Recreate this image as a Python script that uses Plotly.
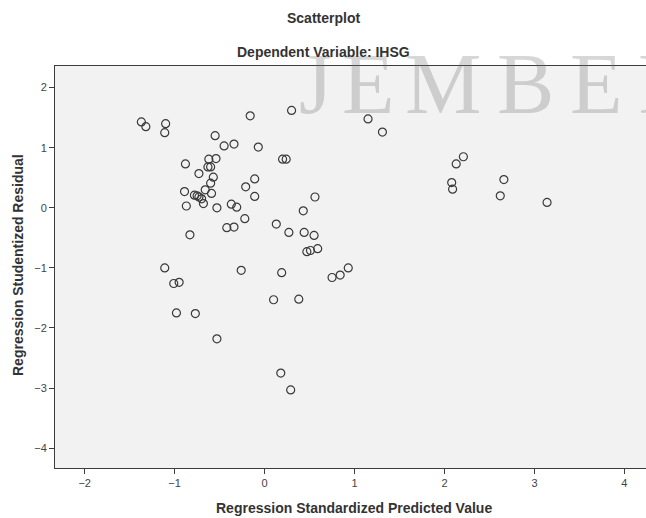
import plotly.graph_objects as go

# Regression Standardized Predicted Value (x) and Regression Studentized Residual (y)
pred = [-1.37, -1.32, -1.10, -1.11, -0.16, 0.30, -0.55, -0.45, -0.34, -0.07,
        0.20, 0.24, -0.88, -0.62, -0.54, -0.63, -0.60, -0.73, -0.57, -0.60,
        -0.11, -0.21, -0.89, -0.66, -0.59, -0.78, -0.75, -0.73, -0.70, -0.11,
        -0.87, -0.68, -0.53, -0.37, -0.31, -0.83, -0.22, -0.42, -0.34, 0.13,
        0.27, 0.44, 0.55, 0.43, 0.56, 0.47, 0.51, 0.59, 0.75, 0.84,
        0.93, -1.11, -1.01, -0.95, -0.98, -0.77, -0.53, -0.26, 0.19, 0.10,
        0.38, 0.18, 0.29, 1.15, 1.31, 2.21, 2.13, 2.08, 2.09, 2.66,
        2.62, 3.14]
resid = [1.43, 1.35, 1.40, 1.25, 1.53, 1.62, 1.20, 1.03, 1.06, 1.01,
         0.81, 0.81, 0.73, 0.81, 0.82, 0.68, 0.68, 0.57, 0.51, 0.41,
         0.48, 0.35, 0.27, 0.30, 0.24, 0.21, 0.20, 0.18, 0.15, 0.19,
         0.03, 0.07, 0.00, 0.06, 0.01, -0.45, -0.18, -0.33, -0.32, -0.27,
         -0.41, -0.41, -0.46, -0.05, 0.18, -0.73, -0.71, -0.68, -1.16, -1.12,
         -1.00, -1.00, -1.26, -1.24, -1.75, -1.76, -2.18, -1.04, -1.08, -1.53,
         -1.52, -2.75, -3.03, 1.48, 1.26, 0.85, 0.73, 0.42, 0.31, 0.47,
         0.20, 0.09]

x_ticks = [-2, -1, 0, 1, 2, 3, 4]
y_ticks = [-4, -3, -2, -1, 0, 1, 2]

W, H = 646, 518
L, R, T, B = 55, 0, 66, 50
pw, ph = W - L - R, H - T - B

def px(xp):
    return (xp - L) / pw

def py(yp):
    return (H - B - yp) / ph

fig = go.Figure()
fig.add_trace(go.Scatter(
    x=pred, y=resid, mode="markers",
    marker=dict(symbol="circle-open", size=8, color="#3a3a3a",
                line=dict(width=1.2, color="#3a3a3a")),
    hoverinfo="skip", showlegend=False))

axis_common = dict(showgrid=False, zeroline=False, showline=True,
                   linecolor="#3c3c3c", linewidth=1, ticks="outside",
                   ticklen=5, tickcolor="#3c3c3c", tickwidth=1,
                   tickfont=dict(family="Liberation Sans, Arial", size=11, color="#444"))

fig.update_layout(
    width=W, height=H,
    margin=dict(l=L, r=R, t=T, b=B),
    paper_bgcolor="white", plot_bgcolor="#f2f2f2",
    xaxis=dict(range=[-2.33, 4.24], tickvals=x_ticks, mirror=True, **axis_common),
    yaxis=dict(range=[-4.33, 2.36], tickvals=y_ticks, **axis_common),
)

title_font = dict(family="Liberation Sans, Arial", size=14, color="#333")
ann = []

# watermark (drawn first, under the titles)
wm_letters = ["J", "E", "M", "B", "E", "R"]
wm_x = [297, 340, 403, 495, 568, 636]
for ch, xx in zip(wm_letters, wm_x):
    ann.append(dict(text=ch, x=px(xx), y=py(134), xref="paper", yref="paper",
                    xanchor="left", yanchor="bottom", showarrow=False,
                    font=dict(family="Liberation Serif, Times New Roman", size=86,
                              color="rgba(110,110,110,0.28)")))

ann.append(dict(text="<b>Scatterplot</b>", x=px(323), y=py(18), xref="paper", yref="paper",
                xanchor="center", yanchor="middle", showarrow=False, font=title_font))
ann.append(dict(text="<b>Dependent Variable: IHSG</b>", x=px(323), y=py(52), xref="paper",
                yref="paper", xanchor="center", yanchor="middle", showarrow=False,
                font=title_font))
ann.append(dict(text="<b>Regression Standardized Predicted Value</b>", x=px(354), y=py(508),
                xref="paper", yref="paper", xanchor="center", yanchor="middle",
                showarrow=False, font=title_font))
ann.append(dict(text="<b>Regression Studentized Residual</b>", x=px(18), y=py(265),
                xref="paper", yref="paper", xanchor="center", yanchor="middle",
                showarrow=False, textangle=-90, font=title_font))

fig.update_layout(annotations=ann)
fig.write_html("out.html", config={"displayModeBar": False},
               post_script="document.body.style.margin='0px';document.body.style.overflow='hidden';")
